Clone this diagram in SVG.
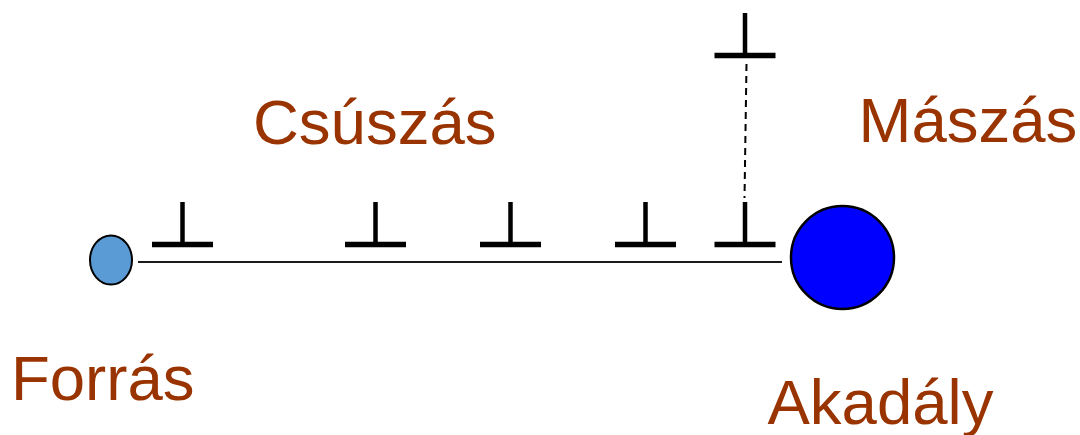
<svg xmlns="http://www.w3.org/2000/svg" width="1080" height="435" viewBox="0 0 1080 435">
  <defs>
    <!-- edge dislocation symbol (⊥), origin at the bar centre -->
    <g id="disloc">
      <line x1="0" y1="-42.5" x2="0" y2="0" stroke="#000" stroke-width="4.5"/>
      <line x1="-30.5" y1="0" x2="30.5" y2="0" stroke="#000" stroke-width="5.5"/>
    </g>
  </defs>
  <style>
    .label { font-family: "Liberation Sans", Arial, sans-serif; font-size: 63.5px; fill: #993300; }
  </style>
  <rect width="1080" height="435" fill="#fff"/>

  <g id="connectors">
    <!-- slip plane -->
    <line x1="138" y1="262" x2="782" y2="262" stroke="#1a1a1a" stroke-width="2"/>
    <!-- climb path -->
    <line x1="746.5" y1="64" x2="744.5" y2="198" stroke="#000" stroke-width="2" stroke-dasharray="7,5"/>
  </g>

  <g id="source">
    <ellipse cx="111" cy="260" rx="21" ry="24.5" fill="#5b9bd5" stroke="#000" stroke-width="2"/>
  </g>

  <g id="obstacle">
    <circle cx="842.5" cy="257.5" r="51.5" fill="#0000ff" stroke="#000" stroke-width="2.5"/>
  </g>

  <g id="dislocations">
    <use href="#disloc" x="182.5" y="244.5"/>
    <use href="#disloc" x="375.5" y="244.5"/>
    <use href="#disloc" x="510.5" y="244.5"/>
    <use href="#disloc" x="645.5" y="244.5"/>
    <use href="#disloc" x="745" y="244.5"/>
    <use href="#disloc" x="745" y="55.5"/>
  </g>

  <g id="labels">
    <text class="label" x="253" y="143.5">Csúszás</text>
    <text class="label" x="858.5" y="142">Mászás</text>
    <text class="label" x="11" y="400">Forrás</text>
    <text class="label" x="767.5" y="423.5">Akadály</text>
  </g>
</svg>
